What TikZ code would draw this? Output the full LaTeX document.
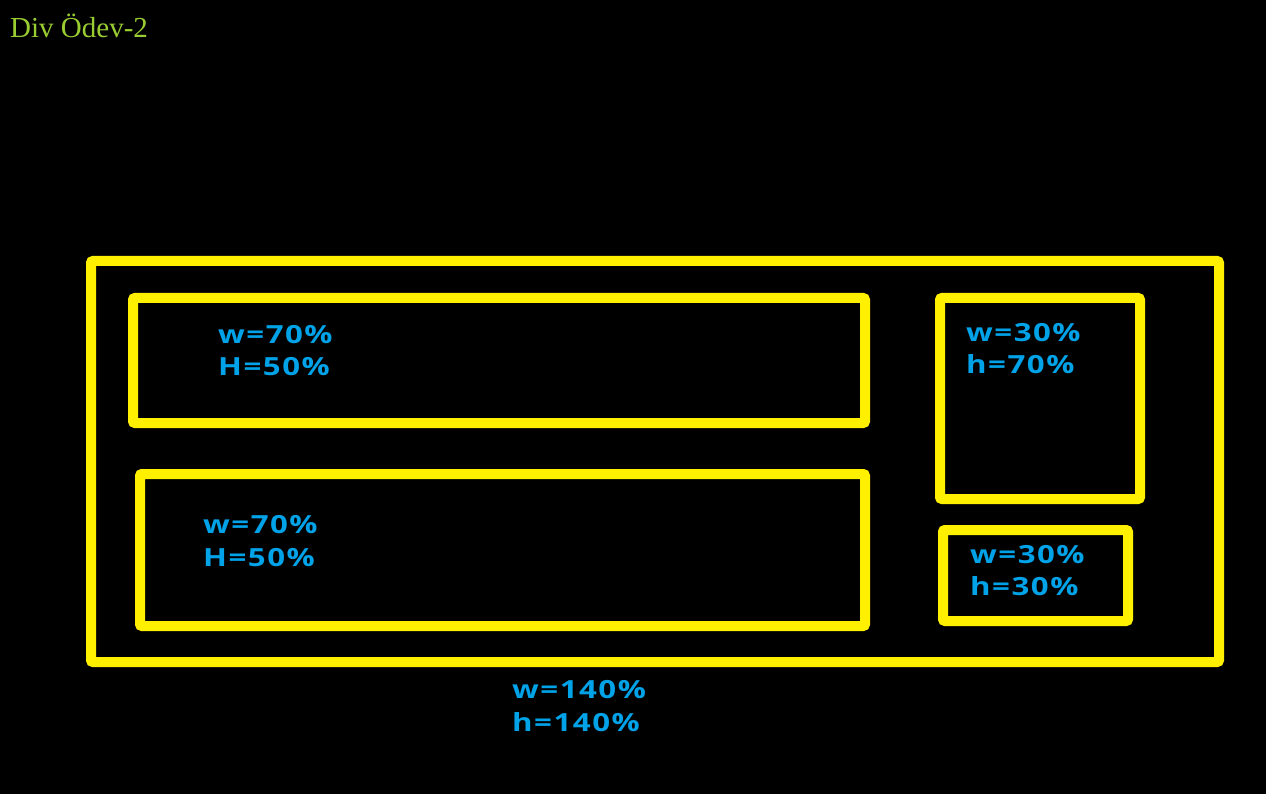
\documentclass[tikz,border=0pt]{standalone}
\usepackage{fontspec}
\setmainfont{Liberation Serif}
\newfontfamily\labfont[LetterSpace=6,FakeStretch=1.25]{Open Sans}
\definecolor{boxyellow}{HTML}{FFF000}
\definecolor{labblue}{HTML}{00A2E8}
\definecolor{titlegreen}{HTML}{9ACD32}
\begin{document}
\begin{tikzpicture}[x=1pt,y=-1pt,
  divbox/.style={draw=boxyellow,line width=10pt,rounded corners=2pt},
  lab/.style={anchor=base west,inner sep=0pt,text=labblue,font=\labfont\bfseries\fontsize{25}{28}\selectfont},
  ttl/.style={anchor=base west,inner sep=0pt,text=titlegreen,font=\fontsize{29}{32}\selectfont}]
\fill[black] (0,0) rectangle (1266,794);
\useasboundingbox (0,0) rectangle (1266,794);
\node[ttl] (title) at (10,38) {Div Ödev-2};
\draw[divbox] (91,261) rectangle (1219,662);
\draw[divbox] (133,298) rectangle (865,423);
\draw[divbox] (140,474) rectangle (865,626);
\draw[divbox] (940,298) rectangle (1140,499);
\draw[divbox] (943,530) rectangle (1128,621);
\node[lab] (a1) at (218,343) {w=70\%};
\node[lab] (a2) at (218,375) {H=50\%};
\node[lab] (b1) at (203,533) {w=70\%};
\node[lab] (b2) at (203,566) {H=50\%};
\node[lab] (c1) at (966,341) {w=30\%};
\node[lab] (c2) at (966,373) {h=70\%};
\node[lab] (d1) at (970,563) {w=30\%};
\node[lab] (d2) at (970,595) {h=30\%};
\node[lab] (e1) at (512,698) {w=140\%};
\node[lab] (e2) at (512,731) {h=140\%};
\end{tikzpicture}
\end{document}
